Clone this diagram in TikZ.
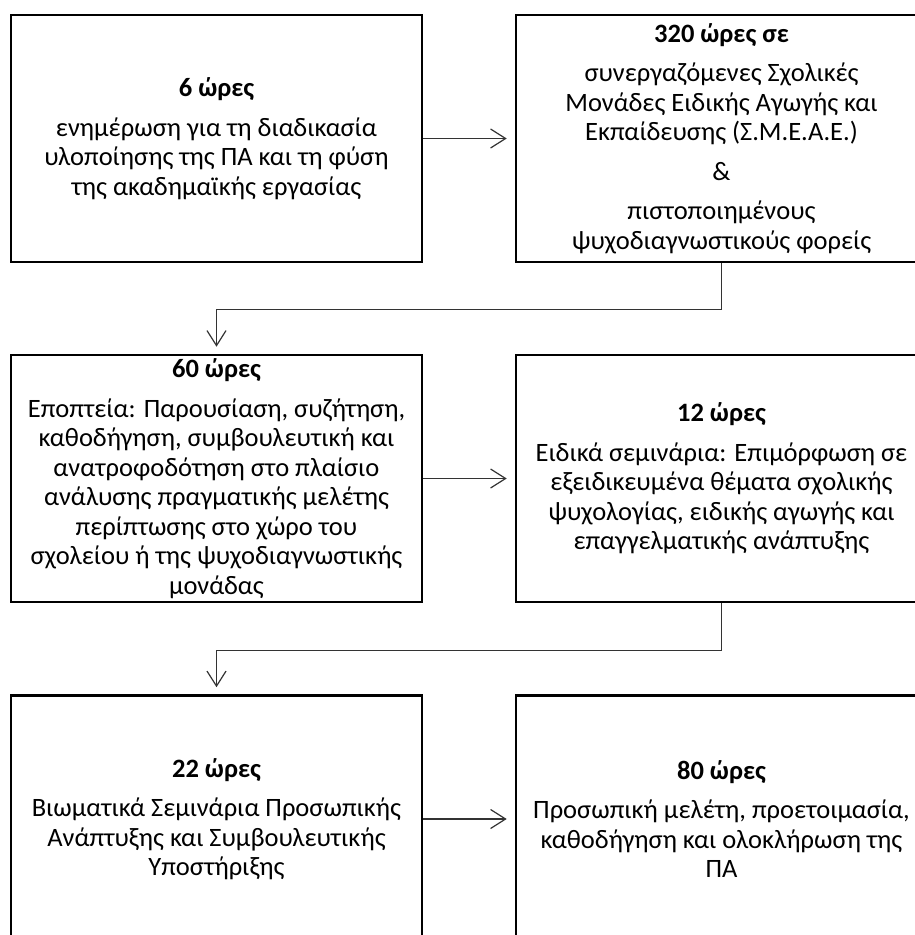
\documentclass[tikz,border=0pt]{standalone}
\usepackage{fontspec}
\setmainfont{Carlito}
\usetikzlibrary{arrows.meta}
\begin{document}
\begin{tikzpicture}[x=1pt,y=-1pt,
  box/.style={draw=black, line width=2.6pt, minimum width=411pt, minimum height=247pt,
    inner sep=0pt, align=center, font=\fontsize{26.5}{29.5}\selectfont},
  conn/.style={draw=black!80, line width=1.2pt, -{Straight Barb[length=15pt,width=19pt,line width=1.2pt]}},
]
\clip (0,0) rectangle (915,935);
\fill[white] (0,0) rectangle (915,935);
\node[box] (b1) at (216.5,138.5) {\textbf{6 ώρες}\\[10pt]
ενημέρωση για τη διαδικασία\\
υλοποίησης της ΠΑ και τη φύση\\
της ακαδημαϊκής εργασίας};
\node[box] (b2) at (721.5,138.5) {\textbf{320 ώρες σε}\\[10pt]
συνεργαζόμενες Σχολικές\\
Μονάδες Ειδικής Αγωγής και\\
Εκπαίδευσης (Σ.Μ.Ε.Α.Ε.)\\[10pt]
\&\\[10pt]
πιστοποιημένους\\
ψυχοδιαγνωστικούς φορείς};
\node[box] (b3) at (216.5,478.5) {\textbf{60 ώρες}\\[10pt]
Εποπτεία: Παρουσίαση, συζήτηση,\\
καθοδήγηση, συμβουλευτική και\\
ανατροφοδότηση στο πλαίσιο\\
ανάλυσης πραγματικής μελέτης\\
περίπτωσης στο χώρο του\\
σχολείου ή της ψυχοδιαγνωστικής\\
μονάδας};
\node[box] (b4) at (721.5,478.5) {\textbf{12 ώρες}\\[10pt]
Ειδικά σεμινάρια: Επιμόρφωση σε\\
εξειδικευμένα θέματα σχολικής\\
ψυχολογίας, ειδικής αγωγής και\\
επαγγελματικής ανάπτυξης};
\node[box] (b5) at (216.5,819) {\textbf{22 ώρες}\\[10pt]
Βιωματικά Σεμινάρια Προσωπικής\\
Ανάπτυξης και Συμβουλευτικής\\
Υποστήριξης};
\node[box] (b6) at (721.5,819) {\textbf{80 ώρες}\\[10pt]
Προσωπική μελέτη, προετοιμασία,\\
καθοδήγηση και ολοκλήρωση της\\
ΠΑ};
\draw[conn, shorten >=8pt] (b1.east) -- (b2.west);
\draw[conn, shorten >=8pt] (b3.east) -- (b4.west);
\draw[conn, shorten >=8pt] (b5.east) -- (b6.west);
\draw[conn, shorten >=7pt] (b2.south) -- ++(0,46) -| (b3.north);
\draw[conn, shorten >=7pt] (b4.south) -- ++(0,47) -| (b5.north);
\end{tikzpicture}
\end{document}
